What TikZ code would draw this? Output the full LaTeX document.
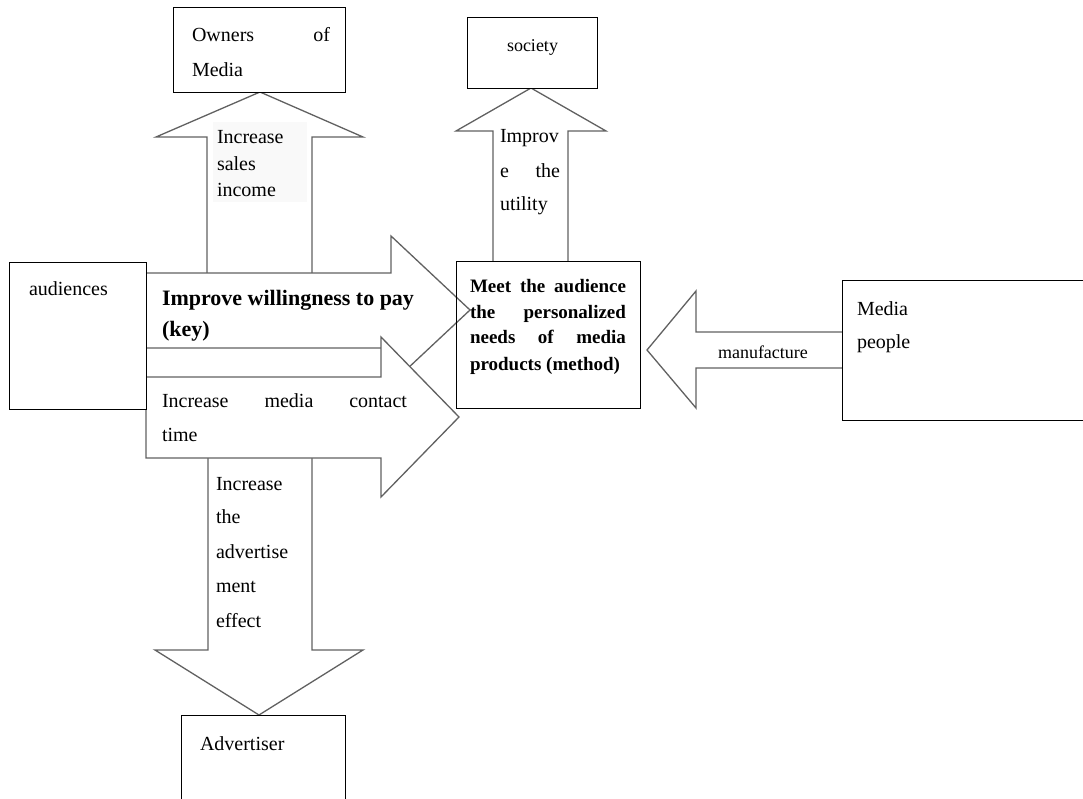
\documentclass[tikz,border=0pt]{standalone}
\usepackage{fontspec}
\setmainfont{Liberation Serif}
\begin{document}
\begin{tikzpicture}[x=1bp,y=-1bp,
  box/.style={draw=black,line width=1bp,rectangle,inner sep=0pt,outer sep=0pt},
  blockarrow/.style={draw=black!62,fill=white,line width=1.3bp,line join=miter},
  txt/.style={anchor=base west,inner sep=0pt,outer sep=0pt,font=\fontsize{20bp}{24bp}\selectfont},
  smalltxt/.style={txt,font=\fontsize{18bp}{22bp}\selectfont},
  boldtxt/.style={txt,font=\fontsize{19bp}{23bp}\selectfont\bfseries},
  bigbold/.style={txt,font=\fontsize{22bp}{26bp}\selectfont\bfseries}]
\useasboundingbox (0,0) rectangle (1083,799);
\clip (0,0) rectangle (1083,799);
\fill[white] (0,0) rectangle (1083,799);

% block arrows
\draw[blockarrow] (207,273) -- (207,137) -- (156,137) -- (260,92) -- (363,137) -- (312,137) -- (312,273);
\fill[black!2.5] (213,122) rectangle (307,202);
\draw[blockarrow] (493,261) -- (493,131) -- (456,131) -- (531,88) -- (606,131) -- (568,131) -- (568,261);
\draw[blockarrow] (208,458) -- (208,650) -- (155,650) -- (259,715) -- (363,650) -- (312,650) -- (312,458);
\draw[blockarrow] (146,273) -- (391,273) -- (391,236) -- (470,310) -- (391,384) -- (391,348) -- (146,348) -- cycle;
\draw[blockarrow] (146,377) -- (381,377) -- (381,337) -- (459,417) -- (381,497) -- (381,458) -- (146,458) -- cycle;
\draw[blockarrow] (842,332) -- (696,332) -- (696,291) -- (647,350) -- (696,408) -- (696,368) -- (842,368);

% boxes
\node[box,fill=white,minimum width=172bp,minimum height=84bp] (owners) at (259,50) {};
\node[box,fill=white,minimum width=130bp,minimum height=70bp] (society) at (532,53) {};
\node[box,fill=white,minimum width=136bp,minimum height=147bp] (audiences) at (78,335.5) {};
\node[box,minimum width=184bp,minimum height=147bp] (center) at (548,334.5) {};
\node[box,fill=white,minimum width=258bp,minimum height=140bp] (media) at (971,350) {};
\node[box,fill=white,minimum width=164bp,minimum height=115bp] (advertiser) at (263,772.5) {};

% texts
\node[txt] (ownA) at (192,42) {\makebox[138bp][s]{Owners of}};
\node[txt] (ownB) at (192,77) {Media};
\node[txt] (inc1) at (217,143) {Increase};
\node[txt] (inc2) at (217,170) {sales};
\node[txt] (inc3) at (217,196) {income};
\node[txt] (aud) at (29,295) {audiences};
\node[bigbold] (imp1) at (162,305) {Improve willingness to pay};
\node[bigbold] (imp2) at (162,336) {(key)};
\node[txt] (icm1) at (162,407) {\makebox[245bp][s]{Increase media contact}};
\node[txt] (icm2) at (162,441) {time};
\node[txt] (ad1) at (216,490) {Increase};
\node[txt] (ad2) at (216,523) {the};
\node[txt] (ad3) at (216,558) {advertise};
\node[txt] (ad4) at (216,592) {ment};
\node[txt] (ad5) at (216,627) {effect};
\node[txt] (advt) at (200,750) {Advertiser};
\node[smalltxt] (soc) at (507,52) {society};
\node[txt] (iu1) at (500,142) {Improv};
\node[txt] (iu2) at (500,177) {\makebox[60bp][s]{e the}};
\node[txt] (iu3) at (500,210) {utility};
\node[boldtxt] (c1) at (470,292) {\makebox[156bp][s]{Meet the audience}};
\node[boldtxt] (c2) at (470,318) {\makebox[156bp][s]{the personalized}};
\node[boldtxt] (c3) at (470,343) {\makebox[156bp][s]{needs of media}};
\node[boldtxt] (c4) at (470,370) {products (method)};
\node[smalltxt] (manu) at (718,358) {manufacture};
\node[txt] (mp1) at (857,315) {Media};
\node[txt] (mp2) at (857,348) {people};
\end{tikzpicture}
\end{document}
